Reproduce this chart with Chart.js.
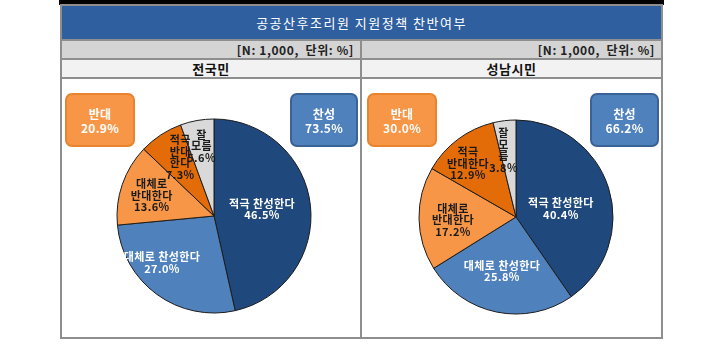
<!DOCTYPE html>
<html>
<head>
<meta charset="utf-8">
<script src="https://cdn.jsdelivr.net/npm/chart.js@4/dist/chart.umd.min.js"></script>
<style>
  html, body { margin: 0; padding: 0; background: #fff; }
  body { width: 709px; height: 351px; position: relative; overflow: hidden;
         font-family: "Noto Sans CJK KR", "Noto Sans", sans-serif; }
  .abs { position: absolute; box-sizing: border-box; }
  .title { color: #fff; font-size: 13px; text-align: center; line-height: 33px; letter-spacing: 1.5px; }
  .unit { font-size: 12px; font-weight: bold; color: #222; text-align: right; line-height: 17px; padding-right: 6px; letter-spacing: 0.6px; white-space: pre; }
  .head { font-size: 13px; font-weight: bold; color: #111; text-align: center; line-height: 17px; letter-spacing: 0.5px; }
  .box { border-radius: 7px; border: 2px solid; color: #fff; font-weight: bold; font-size: 12px;
         text-align: center; line-height: 14px; padding-top: 12px; letter-spacing: 0.3px; }
  .box.con { background: #f79646; border-color: #e8832f; }
  .box.pro { background: #4f81bd; border-color: #3a6294; }
</style>
</head>
<body>
<!-- frame -->
<div class="abs" style="left:59px;top:0;width:605px;height:5px;background:#000"></div>
<div class="abs" style="left:60px;top:4px;width:603px;height:335px;background:#8e8e8e"></div>
<div class="abs title" style="left:62px;top:6px;width:599px;height:33px;background:#2f5f9e">공공산후조리원 지원정책 찬반여부</div>
<div class="abs unit" style="left:62px;top:41px;width:298px;height:17px;background:#d4d4d4">[N: 1,000,  단위: %]</div>
<div class="abs unit" style="left:362px;top:41px;width:299px;height:17px;background:#d4d4d4">[N: 1,000,  단위: %]</div>
<div class="abs head" id="h1" style="left:62px;top:60px;width:298px;height:17px;background:#f2f2f2"></div>
<div class="abs head" id="h2" style="left:362px;top:60px;width:299px;height:17px;background:#f2f2f2"></div>
<div class="abs" style="left:62px;top:79px;width:298px;height:258px;background:#fff"></div>
<div class="abs" style="left:362px;top:79px;width:299px;height:258px;background:#fff"></div>

<canvas id="c1" class="abs" style="left:62px;top:79px"></canvas>
<canvas id="c2" class="abs" style="left:362px;top:79px"></canvas>

<div class="abs box con" id="con1" style="left:65px;top:93px;width:70px;height:54px"></div>
<div class="abs box pro" id="pro1" style="left:290px;top:93px;width:68px;height:54px"></div>
<div class="abs box con" id="con2" style="left:367px;top:93px;width:70px;height:54px"></div>
<div class="abs box pro" id="pro2" style="left:590px;top:93px;width:69px;height:54px"></div>

<script>
// data
var groups = ['전국민', '성남시민'];
var categories = ['적극 찬성한다', '대체로 찬성한다', '대체로 반대한다', '적극 반대한다', '잘 모름'];
var nationValues = [46.5, 27.0, 13.6, 7.3, 5.6];
var seongnamValues = [40.4, 25.8, 17.2, 12.9, 3.8];
var proTotals = [73.5, 66.2];
var conTotals = [20.9, 30.0];

var sliceColors = ['#1f497d', '#4f81bd', '#f79646', '#e36c09', '#d9d9d9'];
var textColors = ['#fff', '#fff', '#1a1a1a', '#1a1a1a', '#1a1a1a'];

// label line breaks (value line is appended)
var nationWraps = [['적극 찬성한다'], ['대체로 찬성한다'], ['대체로', '반대한다'], ['적극', '반대', '한다'], ['잘', '모름']];
var seongnamWraps = [['적극 찬성한다'], ['대체로 찬성한다'], ['대체로', '반대한다'], ['적극', '반대한다'], ['잘', '모', '름']];
// label placement: fraction along slice angle, fraction of radius
var nationPlace = [[0.49, 0.50], [0.625, 0.72], [0.48, 0.675], [0.63, 0.70], [0.50, 0.73]];
var seongnamPlace = [[0.55, 0.47], [0.53, 0.58], [0.47, 0.65], [0.39, 0.74], [0.23, 0.70]];

document.getElementById('h1').textContent = groups[0];
document.getElementById('h2').textContent = groups[1];
document.getElementById('pro1').innerHTML = '찬성<br>' + proTotals[0].toFixed(1) + '%';
document.getElementById('pro2').innerHTML = '찬성<br>' + proTotals[1].toFixed(1) + '%';
document.getElementById('con1').innerHTML = '반대<br>' + conTotals[0].toFixed(1) + '%';
document.getElementById('con2').innerHTML = '반대<br>' + conTotals[1].toFixed(1) + '%';

var sliceLabels = {
  id: 'sliceLabels',
  afterDatasetsDraw: function(chart, args, opts) {
    var ctx = chart.ctx;
    var meta = chart.getDatasetMeta(0);
    var values = chart.data.datasets[0].data;
    ctx.save();
    ctx.font = 'bold 11px "Noto Sans CJK KR", sans-serif';
    ctx.letterSpacing = '0.4px';
    ctx.textAlign = 'center';
    ctx.textBaseline = 'middle';
    meta.data.forEach(function(arc, i) {
      var p = arc.getProps(['x', 'y', 'startAngle', 'endAngle', 'outerRadius'], true);
      var a = p.startAngle + opts.place[i][0] * (p.endAngle - p.startAngle);
      var r = opts.place[i][1] * p.outerRadius;
      var lines = opts.wraps[i].concat([values[i].toFixed(1) + '%']);
      var lh = 11.5;
      var x = p.x + Math.cos(a) * r;
      var y0 = p.y + Math.sin(a) * r - (lines.length - 1) * lh / 2;
      ctx.fillStyle = textColors[i];
      lines.forEach(function(t, k) { ctx.fillText(t, x, y0 + k * lh); });
    });
    ctx.restore();
  }
};

function makePie(id, w, h, values, wraps, place, pad) {
  var el = document.getElementById(id);
  el.width = w; el.height = h;
  el.style.width = w + 'px'; el.style.height = h + 'px';
  return new Chart(el, {
    type: 'pie',
    data: {
      labels: categories,
      datasets: [{
        data: values,
        backgroundColor: sliceColors,
        borderColor: '#1c1c1c',
        borderWidth: 1
      }]
    },
    options: {
      responsive: false,
      animation: false,
      radius: 97,
      layout: { padding: pad },
      plugins: {
        legend: { display: false },
        tooltip: { enabled: false },
        sliceLabels: { wraps: wraps, place: place }
      }
    },
    plugins: [sliceLabels]
  });
}

makePie('c1', 298, 258, nationValues, nationWraps, nationPlace, { left: 6, top: 16 });
makePie('c2', 299, 258, seongnamValues, seongnamWraps, seongnamPlace, { left: 9, top: 18 });
</script>
</body>
</html>
